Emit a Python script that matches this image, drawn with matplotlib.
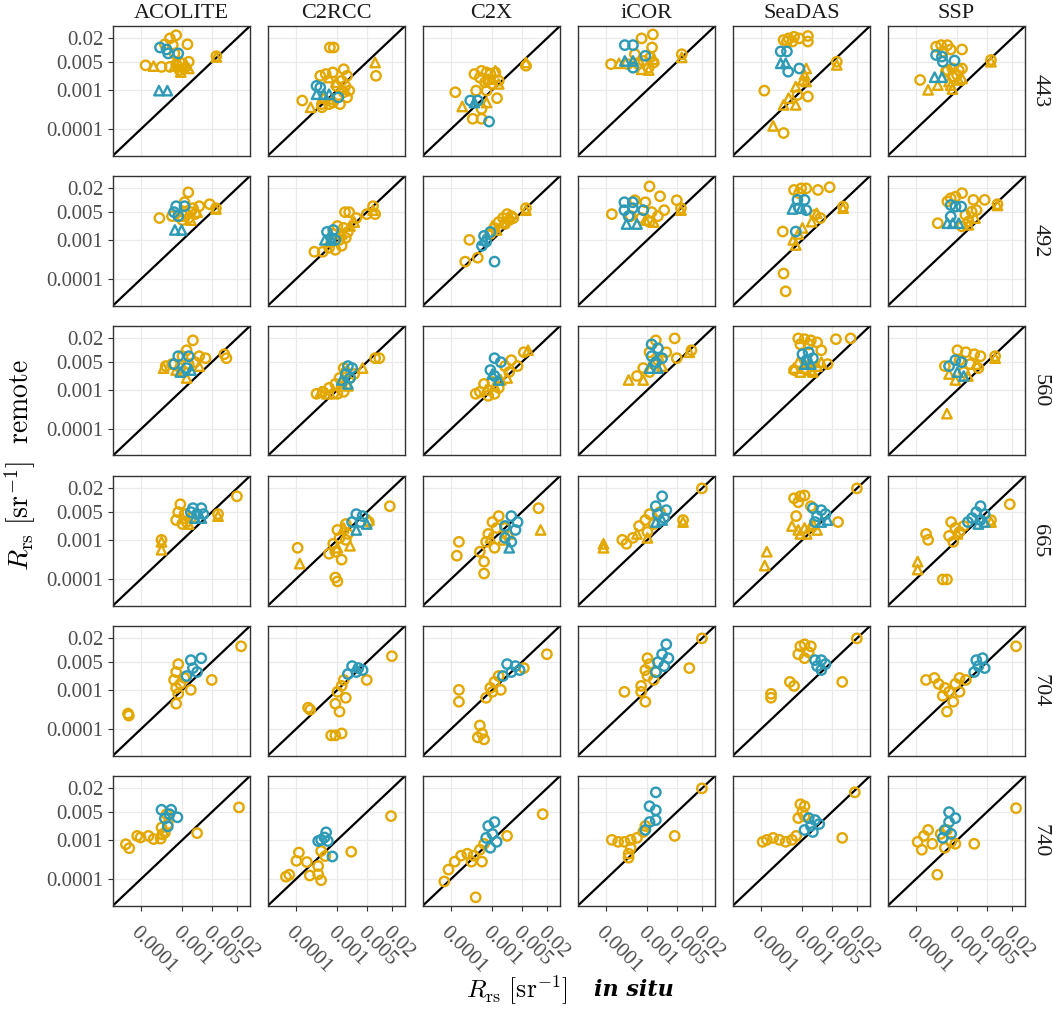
import matplotlib
matplotlib.use('Agg')
import matplotlib.pyplot as plt
import numpy as np

processors = ['ACOLITE', 'C2RCC', 'C2X', 'iCOR', 'SeaDAS', 'SSP']
bands = ['443', '492', '560', '665', '704', '740']
tick_vals = [0.0001, 0.001, 0.005, 0.02]
tick_labels = ['0.0001', '0.001', '0.005', '0.02']

# values as log10(Rrs) pairs: (in situ, remote)
# go / gt = gold circles / triangles, bo / bt = teal circles / triangles
rrs_443 = {
    'ACOLITE': dict(
        go=[(-3.15, -1.62), (-3.30, -1.70), (-3.42, -1.85), (-3.23, -1.87), (-2.88, -1.85), (-3.19, -2.08),
            (-3.88, -2.38), (-3.50, -2.42), (-3.30, -2.42), (-3.15, -2.35), (-3.00, -2.33), (-2.85, -2.29),
            (-2.96, -2.46), (-3.07, -2.50), (-2.19, -2.15)],
        gt=[(-3.69, -2.40), (-3.19, -2.40), (-3.04, -2.55), (-2.92, -2.38), (-2.85, -2.46), (-3.11, -2.29),
            (-2.19, -2.17)],
        bo=[(-3.535, -1.93), (-3.38, -1.98), (-3.34, -2.08), (-3.10, -2.08)],
        bt=[(-3.56, -3.02), (-3.36, -3.02)]),
    'C2RCC': dict(
        go=[(-3.18, -1.93), (-3.09, -1.93), (-2.08, -2.645), (-3.41, -2.645), (-3.28, -2.60), (-3.11, -2.56),
            (-2.85, -2.48), (-2.77, -2.645), (-2.90, -2.77), (-3.025, -2.90), (-2.81, -2.90), (-2.72, -3.02),
            (-2.85, -3.06), (-2.77, -3.19), (-3.11, -3.32), (-2.94, -3.36), (-3.37, -3.36), (-3.20, -3.36),
            (-3.84, -3.27), (-3.37, -3.44)],
        gt=[(-2.10, -2.31), (-3.025, -2.81), (-3.20, -2.69), (-2.90, -2.94), (-3.11, -3.23), (-3.33, -3.19),
            (-3.64, -3.44)],
        bo=[(-3.50, -2.90), (-3.41, -2.94), (-2.98, -3.19)],
        bt=[(-3.50, -3.11), (-3.33, -3.11), (-3.20, -3.11)]),
    'C2X': dict(
        go=[(-2.20, -2.39), (-3.43, -2.60), (-3.26, -2.52), (-3.14, -2.56), (-3.30, -2.69), (-3.05, -2.60),
            (-2.93, -2.56), (-2.85, -2.77), (-3.18, -2.81), (-3.01, -2.85), (-3.39, -3.02), (-3.14, -3.02),
            (-2.89, -3.21), (-3.26, -3.48), (-3.47, -3.73), (-3.26, -3.73), (-3.886, -3.06)],
        gt=[(-2.20, -2.31), (-2.93, -2.52), (-3.10, -2.73), (-2.85, -2.85), (-3.14, -3.32), (-3.72, -3.42),
            (-3.01, -2.73)],
        bo=[(-3.53, -3.27), (-3.35, -3.27), (-3.08, -3.80)],
        bt=[(-3.43, -3.32)]),
    'iCOR': dict(
        go=[(-3.14, -1.70), (-2.87, -1.60), (-2.89, -1.93), (-2.93, -2.18), (-3.30, -2.10), (-3.87, -2.35),
            (-3.47, -2.35), (-3.22, -2.35), (-3.10, -2.27), (-2.97, -2.44), (-2.85, -2.31), (-2.18, -2.10)],
        gt=[(-3.68, -2.33), (-3.14, -2.48), (-2.97, -2.50), (-2.85, -2.23), (-2.18, -2.18)],
        bo=[(-3.54, -1.87), (-3.345, -1.87), (-3.05, -2.14), (-3.345, -2.44)],
        bt=[(-3.54, -2.27), (-3.345, -2.27)]),
    'SeaDAS': dict(
        go=[(-3.45, -1.74), (-3.33, -1.70), (-3.20, -1.66), (-3.075, -1.70), (-3.37, -1.78), (-3.24, -1.78),
            (-2.87, -1.64), (-2.87, -1.78), (-3.91, -3.02), (-2.87, -3.17), (-3.12, -3.13), (-3.45, -4.09),
            (-2.18, -2.29)],
        gt=[(-2.91, -2.46), (-2.95, -2.62), (-2.99, -2.75), (-2.91, -2.79), (-3.16, -2.92), (-3.33, -3.21),
            (-3.45, -3.38), (-3.16, -3.38), (-3.70, -3.91), (-2.18, -2.37)],
        bo=[(-3.52, -2.03), (-3.37, -2.03), (-3.34, -2.54), (-3.075, -2.46)],
        bt=[(-3.52, -2.33), (-3.40, -2.33)]),
    'SSP': dict(
        go=[(-3.51, -1.91), (-3.39, -1.87), (-3.24, -1.87), (-3.16, -1.98), (-2.89, -1.98), (-3.35, -2.035),
            (-3.89, -2.75), (-3.24, -2.50), (-3.12, -2.46), (-2.97, -2.50), (-2.89, -2.46), (-3.01, -2.62),
            (-3.12, -2.66), (-3.275, -2.54), (-2.20, -2.245)],
        gt=[(-3.70, -3.00), (-3.47, -2.88), (-3.16, -2.88), (-3.12, -2.98), (-2.97, -2.75), (-2.89, -2.71),
            (-3.20, -2.79), (-2.20, -2.29)],
        bo=[(-3.51, -2.12), (-3.37, -2.16), (-3.35, -2.29), (-3.07, -2.26)],
        bt=[(-3.545, -2.68), (-3.37, -2.68)]),
}

rrs_492 = {
    'ACOLITE': dict(
        go=[(-2.86, -1.80), (-2.95, -2.05), (-2.60, -2.15), (-2.35, -2.10), (-2.75, -2.20), (-3.55, -2.45),
            (-3.25, -2.40), (-2.90, -2.35), (-2.80, -2.30), (-2.70, -2.35), (-2.85, -2.45), (-2.20, -2.20),
            (-3.00, -2.50), (-2.95, -2.30)],
        gt=[(-2.80, -2.50), (-3.05, -2.40), (-2.65, -2.30), (-2.20, -2.22)],
        bo=[(-3.15, -2.15), (-2.95, -2.15), (-3.20, -2.30), (-3.10, -2.40)],
        bt=[(-3.18, -2.75), (-3.02, -2.75)]),
    'C2RCC': dict(
        go=[(-2.82, -2.30), (-2.72, -2.30), (-2.55, -2.45), (-2.15, -2.15), (-2.10, -2.35), (-2.30, -2.35),
            (-3.55, -3.30), (-3.00, -2.65), (-2.85, -2.70), (-2.75, -2.80), (-3.10, -2.85), (-2.95, -3.00),
            (-3.20, -3.20), (-2.90, -3.15), (-3.05, -3.25), (-2.80, -2.95), (-3.35, -3.30)],
        gt=[(-2.15, -2.25), (-2.60, -2.55), (-2.70, -2.65), (-3.20, -3.05), (-2.90, -2.85)],
        bo=[(-3.25, -2.80), (-3.10, -2.75), (-3.05, -3.00), (-3.15, -2.95)],
        bt=[(-3.30, -3.00), (-3.15, -3.00)]),
    'C2X': dict(
        go=[(-2.20, -2.20), (-2.65, -2.35), (-2.50, -2.45), (-2.75, -2.45), (-2.85, -2.55), (-2.60, -2.50),
            (-2.95, -2.70), (-3.05, -2.85), (-3.55, -3.00), (-3.65, -3.55), (-3.35, -3.45), (-2.55, -2.40),
            (-2.70, -2.60)],
        gt=[(-2.20, -2.25), (-2.60, -2.45), (-2.75, -2.55), (-2.90, -2.75), (-3.00, -2.65)],
        bo=[(-3.20, -2.90), (-3.15, -3.05), (-3.25, -3.15), (-3.05, -2.80), (-2.95, -3.55)],
        bt=[(-3.20, -3.00)]),
    'iCOR': dict(
        go=[(-2.95, -1.65), (-2.70, -1.90), (-2.30, -2.00), (-3.05, -2.05), (-3.30, -2.00), (-3.85, -2.35),
            (-3.40, -2.40), (-3.15, -2.45), (-2.90, -2.30), (-2.75, -2.40), (-2.95, -2.55), (-2.60, -2.25),
            (-2.20, -2.20)],
        gt=[(-2.85, -2.55), (-3.05, -2.50), (-2.20, -2.25)],
        bo=[(-3.55, -2.05), (-3.35, -2.05), (-3.55, -2.25), (-3.35, -2.20), (-3.10, -2.25), (-3.45, -2.40)],
        bt=[(-3.50, -2.60), (-3.25, -2.60)]),
    'SeaDAS': dict(
        go=[(-3.03, -1.70), (-3.20, -1.74), (-2.91, -1.70), (-2.63, -1.74), (-2.35, -1.67), (-3.08, -1.82),
            (-2.70, -2.37), (-2.57, -2.45), (-2.03, -2.16), (-3.47, -2.79), (-3.45, -3.85), (-3.40, -4.30)],
        gt=[(-2.78, -2.54), (-2.66, -2.33), (-2.03, -2.20), (-3.22, -3.00), (-3.16, -3.13), (-3.10, -2.85),
            (-3.00, -2.70)],
        bo=[(-3.12, -1.99), (-2.95, -1.99), (-3.08, -2.20), (-2.91, -2.25), (-3.16, -2.79)],
        bt=[(-3.24, -2.22), (-3.03, -2.20)]),
    'SSP': dict(
        go=[(-3.16, -1.95), (-3.045, -1.91), (-2.89, -1.82), (-2.62, -1.99), (-2.35, -1.99), (-3.47, -2.58),
            (-2.81, -2.37), (-2.66, -2.29), (-2.74, -2.54), (-2.89, -2.66), (-2.545, -2.25), (-2.045, -2.10),
            (-3.24, -2.03)],
        gt=[(-2.74, -2.62), (-2.58, -2.45), (-2.045, -2.13)],
        bo=[(-3.16, -2.12), (-3.045, -2.16), (-2.91, -2.16), (-3.16, -2.41)],
        bt=[(-3.24, -2.58), (-3.11, -2.58), (-2.97, -2.58)]),
}

rrs_560 = {
    'ACOLITE': dict(
        go=[(-2.75, -1.75), (-2.90, -2.00), (-3.00, -2.15), (-2.60, -2.15), (-2.45, -2.20), (-3.25, -2.35),
            (-3.05, -2.45), (-2.85, -2.35), (-2.70, -2.30), (-3.40, -2.40), (-2.00, -2.10), (-1.95, -2.20),
            (-2.95, -2.55)],
        gt=[(-3.45, -2.45), (-2.90, -2.70), (-3.15, -2.50), (-2.60, -2.40)],
        bo=[(-3.10, -2.15), (-2.85, -2.15), (-3.20, -2.35), (-2.90, -2.45)],
        bt=[(-3.05, -2.55), (-2.80, -2.50)]),
    'C2RCC': dict(
        go=[(-2.85, -2.45), (-2.80, -2.55), (-2.95, -2.70), (-3.05, -2.85), (-3.20, -2.95), (-3.35, -3.05),
            (-3.50, -3.10), (-3.10, -3.10), (-2.70, -2.70), (-2.60, -2.60), (-2.10, -2.20), (-2.00, -2.20),
            (-3.00, -3.10), (-2.85, -3.05)],
        gt=[(-3.40, -3.05), (-3.25, -3.10), (-2.90, -2.80), (-2.40, -2.45), (-2.75, -2.90)],
        bo=[(-2.75, -2.40), (-2.65, -2.45), (-2.80, -2.60), (-2.70, -2.70)],
        bt=[(-2.90, -2.75), (-2.75, -2.85)]),
    'C2X': dict(
        go=[(-2.25, -2.05), (-2.55, -2.25), (-2.70, -2.40), (-2.40, -2.40), (-3.20, -2.85), (-3.30, -3.05),
            (-3.10, -3.15), (-2.95, -3.10), (-3.40, -3.10), (-2.85, -2.95), (-2.60, -2.55), (-3.00, -2.80)],
        gt=[(-2.15, -2.00), (-2.80, -2.75), (-3.15, -3.00), (-2.65, -2.70), (-2.95, -2.90)],
        bo=[(-2.95, -2.20), (-2.80, -2.30), (-3.05, -2.50), (-2.95, -2.65)],
        bt=[(-3.00, -2.60), (-2.85, -2.75)]),
    'iCOR': dict(
        go=[(-2.80, -1.75), (-2.35, -1.70), (-2.95, -2.05), (-2.55, -2.05), (-2.75, -2.25), (-3.10, -2.45),
            (-2.95, -2.55), (-3.25, -2.65), (-2.85, -2.35), (-2.30, -2.20), (-1.95, -2.00)],
        gt=[(-3.45, -2.75), (-3.10, -2.75), (-2.65, -2.40), (-2.00, -2.05)],
        bo=[(-2.90, -1.85), (-2.75, -1.95), (-2.90, -2.15), (-2.80, -2.30), (-2.65, -2.20)],
        bt=[(-2.95, -2.45), (-2.75, -2.45)]),
    'SeaDAS': dict(
        go=[(-3.10, -1.70), (-2.95, -1.72), (-2.80, -1.75), (-3.05, -1.85), (-2.85, -1.85), (-2.65, -1.80),
            (-2.20, -1.72), (-1.85, -1.70), (-2.55, -2.00), (-3.20, -2.50), (-2.40, -2.35)],
        gt=[(-3.20, -2.45), (-3.05, -2.55), (-2.95, -2.45), (-2.80, -2.50), (-2.65, -2.40), (-2.55, -2.30),
            (-3.10, -2.30), (-2.85, -2.35), (-2.75, -2.55)],
        bo=[(-3.00, -2.10), (-2.85, -2.05), (-2.90, -2.25), (-2.75, -2.20)],
        bt=[(-2.95, -2.35), (-2.80, -2.35)]),
    'SSP': dict(
        go=[(-3.00, -2.00), (-2.80, -2.05), (-2.60, -2.10), (-2.45, -2.15), (-2.95, -2.25), (-2.70, -2.35),
            (-2.50, -2.45), (-2.85, -2.55), (-2.10, -2.15), (-3.30, -2.40)],
        gt=[(-3.20, -2.60), (-3.05, -2.75), (-2.75, -2.65), (-3.25, -3.60), (-2.10, -2.20), (-2.55, -2.35)],
        bo=[(-3.05, -2.25), (-2.90, -2.30), (-3.20, -2.40)],
        bt=[(-3.00, -2.55), (-2.85, -2.65)]),
}

rrs_665 = {
    'ACOLITE': dict(
        go=[(-3.05, -2.10), (-3.10, -2.30), (-2.95, -2.35), (-3.15, -2.50), (-2.90, -2.55), (-3.00, -2.60),
            (-2.80, -2.45), (-1.70, -1.90), (-2.15, -2.35), (-3.50, -3.00)],
        gt=[(-3.50, -3.05), (-3.50, -3.25), (-2.15, -2.40), (-2.85, -2.60), (-3.00, -2.45)],
        bo=[(-2.75, -2.20), (-2.55, -2.20), (-2.65, -2.35), (-2.80, -2.30), (-2.50, -2.35)],
        bt=[(-2.70, -2.45), (-2.55, -2.45)]),
    'C2RCC': dict(
        go=[(-1.75, -2.15), (-2.25, -2.55), (-2.80, -2.60), (-3.00, -2.75), (-2.95, -2.95), (-3.10, -3.10),
            (-2.80, -3.00), (-3.05, -3.30), (-2.90, -3.50), (-3.05, -3.95), (-3.00, -4.05), (-3.95, -3.20),
            (-3.20, -3.35), (-2.75, -2.85)],
        gt=[(-2.25, -2.50), (-3.90, -3.60), (-2.70, -3.15), (-3.00, -3.20), (-2.85, -2.70)],
        bo=[(-2.55, -2.35), (-2.40, -2.40), (-2.45, -2.55), (-2.65, -2.55)],
        bt=[(-2.55, -2.75), (-2.30, -2.60)]),
    'C2X': dict(
        go=[(-1.90, -2.20), (-2.85, -2.40), (-3.00, -2.55), (-2.90, -2.70), (-3.10, -2.85), (-3.15, -3.05),
            (-2.95, -3.20), (-3.30, -3.30), (-3.20, -3.55), (-3.20, -3.85), (-3.80, -3.05), (-3.85, -3.40),
            (-2.70, -2.70)],
        gt=[(-1.85, -2.75), (-2.75, -3.00), (-3.05, -2.95), (-2.60, -2.85)],
        bo=[(-2.55, -2.40), (-2.40, -2.55), (-2.70, -2.65), (-2.45, -2.75), (-2.70, -2.95), (-2.55, -3.05)],
        bt=[(-2.60, -3.20)]),
    'iCOR': dict(
        go=[(-1.70, -1.70), (-2.15, -2.50), (-2.95, -2.35), (-3.05, -2.50), (-3.20, -2.65), (-3.00, -2.80),
            (-3.35, -2.95), (-3.50, -3.10), (-2.85, -2.60), (-3.60, -3.00), (-2.70, -2.30)],
        gt=[(-4.05, -3.10), (-4.05, -3.20), (-2.15, -2.55), (-3.25, -2.85), (-3.00, -2.95)],
        bo=[(-2.65, -1.90), (-2.80, -2.15), (-2.55, -2.25), (-2.75, -2.35), (-2.60, -2.45)],
        bt=[(-2.80, -2.55), (-2.65, -2.50)]),
    'SeaDAS': dict(
        go=[(-3.20, -1.95), (-3.05, -1.90), (-2.95, -1.88), (-3.10, -2.05), (-2.80, -2.15), (-1.70, -1.70),
            (-2.15, -2.55), (-3.15, -2.40)],
        gt=[(-3.25, -2.65), (-3.10, -2.75), (-2.95, -2.70), (-2.80, -2.65), (-2.65, -2.75), (-3.05, -2.85),
            (-2.90, -2.85), (-3.85, -3.30), (-3.90, -3.65), (-2.75, -2.60)],
        bo=[(-2.75, -2.20), (-2.55, -2.25), (-2.65, -2.40), (-2.45, -2.35), (-2.70, -2.55)],
        bt=[(-2.55, -2.55), (-2.40, -2.50)]),
    'SSP': dict(
        go=[(-1.75, -2.10), (-2.20, -2.50), (-3.15, -2.55), (-3.05, -2.70), (-2.95, -2.80), (-3.20, -2.90),
            (-3.10, -3.05), (-3.75, -2.85), (-3.70, -3.00), (-3.35, -4.00), (-3.25, -4.00), (-2.85, -2.65)],
        gt=[(-2.20, -2.55), (-3.95, -3.55), (-3.95, -3.75), (-3.00, -2.85)],
        bo=[(-2.45, -2.15), (-2.55, -2.30), (-2.35, -2.35), (-2.65, -2.45), (-2.45, -2.50), (-2.75, -2.55)],
        bt=[(-2.50, -2.60), (-2.35, -2.55)]),
}

rrs_704 = {
    'ACOLITE': dict(
        go=[(-3.10, -2.35), (-3.15, -2.55), (-3.20, -2.75), (-3.15, -2.95), (-3.05, -2.85), (-3.10, -3.10),
            (-2.95, -2.70), (-2.80, -3.00), (-2.30, -2.75), (-1.60, -1.90), (-4.30, -3.60), (-4.28, -3.65),
            (-3.15, -3.35)],
        bo=[(-2.80, -2.25), (-2.55, -2.20), (-2.75, -2.45), (-2.90, -2.65), (-2.65, -2.55)]),
    'C2RCC': dict(
        go=[(-1.70, -2.15), (-2.30, -2.75), (-2.85, -2.75), (-2.90, -2.90), (-3.00, -3.05), (-2.80, -3.20),
            (-3.05, -3.35), (-3.70, -3.45), (-3.65, -3.50), (-3.15, -4.15), (-3.05, -4.15), (-2.90, -4.10),
            (-2.95, -3.55)],
        bo=[(-2.65, -2.40), (-2.50, -2.45), (-2.40, -2.50), (-2.55, -2.55), (-2.75, -2.60)]),
    'C2X': dict(
        go=[(-1.70, -2.10), (-2.25, -2.45), (-2.85, -2.65), (-2.95, -2.80), (-3.05, -2.95), (-3.00, -3.05),
            (-3.15, -3.20), (-2.80, -3.00), (-3.80, -3.00), (-3.80, -3.30), (-3.30, -3.90), (-3.25, -4.10),
            (-3.35, -4.20), (-3.20, -4.25)],
        bo=[(-2.65, -2.35), (-2.45, -2.40), (-2.35, -2.50), (-2.55, -2.55), (-2.75, -2.65)]),
    'iCOR': dict(
        go=[(-1.70, -1.70), (-2.00, -2.45), (-3.00, -2.20), (-2.95, -2.35), (-3.05, -2.50), (-3.00, -2.65),
            (-2.85, -2.75), (-3.15, -2.90), (-3.55, -3.05), (-3.15, -3.05), (-3.05, -3.30), (-2.80, -2.55)],
        bo=[(-2.55, -1.85), (-2.65, -2.10), (-2.50, -2.20), (-2.75, -2.30), (-2.60, -2.40), (-2.80, -2.55)]),
    'SeaDAS': dict(
        go=[(-3.05, -1.90), (-2.95, -1.85), (-2.80, -1.90), (-2.85, -2.05), (-3.10, -2.10), (-2.95, -2.20),
            (-3.30, -2.80), (-3.20, -2.90), (-3.75, -3.10), (-3.75, -3.20), (-2.05, -2.80), (-1.70, -1.70)],
        bo=[(-2.70, -2.25), (-2.55, -2.25), (-2.65, -2.40), (-2.45, -2.35), (-2.55, -2.50)]),
    'SSP': dict(
        go=[(-3.75, -2.75), (-3.55, -2.70), (-3.45, -2.85), (-3.30, -2.95), (-3.20, -3.05), (-3.05, -2.85),
            (-2.95, -3.05), (-3.35, -3.15), (-3.10, -3.30), (-3.25, -3.55), (-2.95, -2.70), (-1.60, -1.90),
            (-2.80, -2.75)],
        bo=[(-2.55, -2.25), (-2.40, -2.20), (-2.50, -2.40), (-2.35, -2.45), (-2.60, -2.55)]),
}

rrs_740 = {
    'ACOLITE': dict(
        go=[(-4.35, -3.11), (-4.27, -3.21), (-4.08, -2.90), (-4.00, -2.94), (-3.81, -2.90), (-3.69, -2.98),
            (-3.52, -2.97), (-3.48, -2.86), (-3.42, -2.82), (-3.50, -2.69), (-3.35, -2.60), (-2.65, -2.83),
            (-1.65, -2.18), (-3.38, -2.35)],
        bo=[(-3.50, -2.24), (-3.27, -2.24), (-3.42, -2.46), (-3.12, -2.43), (-3.35, -2.66), (-3.31, -2.35)]),
    'C2RCC': dict(
        go=[(-4.23, -3.93), (-4.15, -3.88), (-3.92, -3.32), (-3.98, -3.53), (-3.73, -3.56), (-3.39, -3.28),
            (-3.29, -3.41), (-3.46, -3.66), (-3.66, -3.90), (-3.46, -3.87), (-3.39, -4.02), (-2.67, -3.30),
            (-1.72, -2.40)],
        bo=[(-3.46, -3.03), (-3.39, -3.00), (-3.27, -2.81), (-3.31, -2.94), (-3.23, -3.03), (-3.12, -3.42)]),
    'C2X': dict(
        go=[(-4.15, -4.05), (-4.05, -3.75), (-3.90, -3.55), (-3.75, -3.40), (-3.60, -3.35), (-3.45, -3.40),
            (-3.30, -3.25), (-3.25, -3.55), (-3.20, -3.10), (-2.65, -2.90), (-1.80, -2.35), (-3.40, -4.45),
            (-3.50, -3.55)],
        bo=[(-3.10, -2.65), (-2.95, -2.55), (-3.00, -2.85), (-3.15, -2.95), (-2.90, -3.05), (-3.05, -3.20)]),
    'iCOR': dict(
        go=[(-3.85, -3.00), (-3.70, -3.05), (-3.55, -3.05), (-3.40, -3.00), (-3.25, -2.95), (-3.40, -3.20),
            (-3.45, -3.35), (-3.45, -3.45), (-2.35, -2.90), (-1.70, -1.70), (-3.05, -2.65), (-3.10, -2.80)],
        bo=[(-2.80, -1.80), (-2.95, -2.15), (-2.80, -2.25), (-2.95, -2.55), (-2.80, -2.50), (-3.05, -2.75)]),
    'SeaDAS': dict(
        go=[(-3.05, -2.10), (-2.95, -2.15), (-3.00, -2.30), (-2.95, -2.40), (-3.10, -2.45), (-3.95, -3.05),
            (-3.85, -3.00), (-3.70, -2.95), (-3.55, -3.00), (-3.40, -3.05), (-3.25, -3.00), (-3.15, -2.90),
            (-2.05, -2.95), (-1.75, -1.80)],
        bo=[(-2.85, -2.45), (-2.70, -2.50), (-2.80, -2.65), (-2.60, -2.60), (-2.75, -2.80), (-2.95, -2.75)]),
    'SSP': dict(
        go=[(-3.95, -3.05), (-3.80, -2.90), (-3.70, -2.75), (-3.85, -3.25), (-3.60, -3.10), (-3.40, -2.85),
            (-3.30, -3.20), (-3.15, -3.05), (-3.05, -3.10), (-2.60, -3.10), (-1.60, -2.20), (-3.48, -3.88),
            (-3.25, -2.75)],
        bo=[(-3.20, -2.30), (-3.05, -2.45), (-3.30, -2.75), (-3.15, -2.85), (-3.35, -2.95), (-3.20, -2.55)]),
}

band_data = [rrs_443, rrs_492, rrs_560, rrs_665, rrs_704, rrs_740]

gold = '#E3A800'
teal = '#2E9AB5'
styles = {'go': (gold, 'o'), 'gt': (gold, '^'), 'bo': (teal, 'o'), 'bt': (teal, '^')}
lims = (2.2e-5, 0.041)

plt.rcParams['font.family'] = ['Liberation Serif', 'DejaVu Serif']
plt.rcParams['mathtext.fontset'] = 'cm'

W, H = 1052, 1011
fig = plt.figure(figsize=(W / 100, H / 100), dpi=100)

left0, top0 = 113, 26
pw, ph = 137, 129.5
dx, dy = 155, 150

for r, band in enumerate(bands):
    for c, proc in enumerate(processors):
        x0 = left0 + c * dx
        y0 = top0 + r * dy
        ax = fig.add_axes([x0 / W, 1 - (y0 + ph) / H, pw / W, ph / H])
        ax.set_xscale('log')
        ax.set_yscale('log')
        ax.set_xlim(lims)
        ax.set_ylim(lims)
        ax.plot(lims, lims, color='black', lw=1.6, zorder=2)
        groups = band_data[r][proc]
        for key in ['go', 'gt', 'bo', 'bt']:
            if key not in groups:
                continue
            pts = np.array(groups[key])
            col, mk = styles[key]
            ax.scatter(10 ** pts[:, 0], 10 ** pts[:, 1], s=46, marker=mk, facecolors='none',
                       edgecolors=col, linewidths=1.7, zorder=3)
        ax.set_xticks(tick_vals)
        ax.set_yticks(tick_vals)
        ax.minorticks_off()
        ax.grid(True, color='#EBEBEB', lw=0.9, zorder=0)
        ax.set_axisbelow(True)
        for sp in ax.spines.values():
            sp.set_color('#333333')
            sp.set_linewidth(1.0)
        ax.tick_params(length=3.5, width=0.8, color='#333333', labelcolor='#4D4D4D', labelsize=15)
        if c == 0:
            ax.set_yticklabels(tick_labels)
        else:
            ax.tick_params(axis='y', left=False, labelleft=False)
        if r == len(bands) - 1:
            ax.set_xticklabels(tick_labels, rotation=-45, ha='left', va='top', rotation_mode='anchor')
            ax.tick_params(axis='x', pad=9)
        else:
            ax.tick_params(axis='x', bottom=False, labelbottom=False)
        if r == 0:
            fig.text((x0 + pw / 2) / W, 1 - 13 / H, proc, ha='center', va='center', fontsize=16, color='#1A1A1A')
        if c == len(processors) - 1:
            fig.text((x0 + pw + 15) / W, 1 - (y0 + ph / 2) / H, band, ha='center', va='center',
                     rotation=-90, fontsize=16, color='#1A1A1A')

fig.text(517 / W, 1 - 990 / H, r'$R_{\rm rs}\ [\rm sr^{-1}]$', ha='center', va='center', fontsize=18.5)
fig.text(634 / W, 1 - 990 / H, 'in situ', ha='center', va='center', fontsize=16,
         family='DejaVu Serif', style='italic', weight='bold')
fig.text(20 / W, 1 - 465 / H, r'$R_{\rm rs}\ [\rm sr^{-1}]\ \ \rm remote$', ha='center', va='center',
         rotation=90, fontsize=20)

fig.savefig('out.png', dpi=100)
